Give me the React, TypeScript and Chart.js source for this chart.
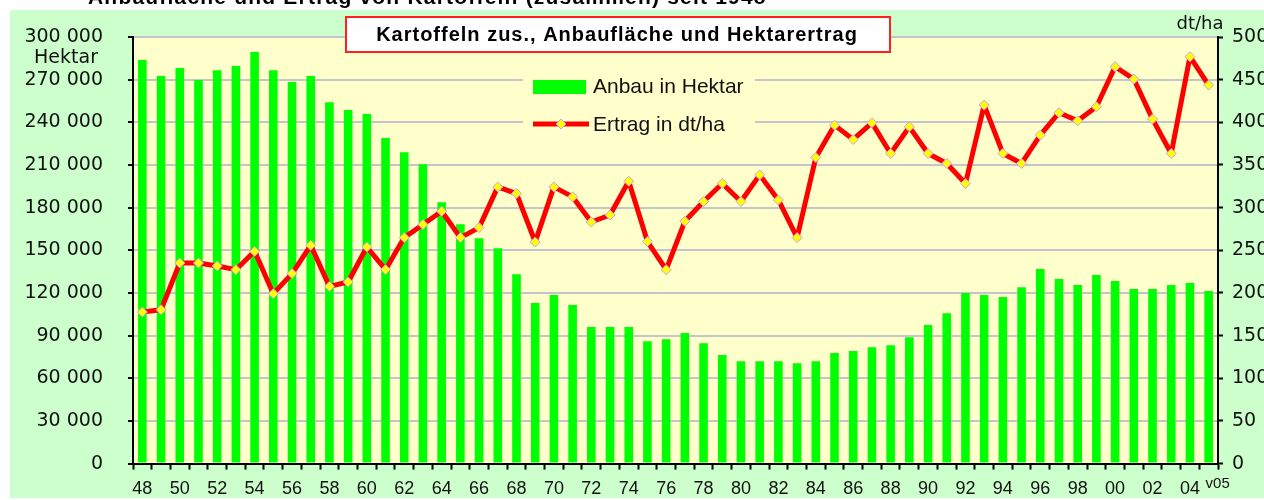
import React, { useEffect, useRef } from 'react';
import { Chart, registerables } from 'chart.js';

Chart.register(...registerables);

// ---- data ----
const years = [
  '48', '49', '50', '51', '52', '53', '54', '55', '56', '57',
  '58', '59', '60', '61', '62', '63', '64', '65', '66', '67',
  '68', '69', '70', '71', '72', '73', '74', '75', '76', '77',
  '78', '79', '80', '81', '82', '83', '84', '85', '86', '87',
  '88', '89', '90', '91', '92', '93', '94', '95', '96', '97',
  '98', '99', '00', '01', '02', '03', '04', '05',
];

const areaHa = [
  283800, 272500, 278200, 269700, 276700, 279600, 289400, 276700, 268300, 272500,
  254200, 248600, 245800, 228900, 219000, 210600, 183800, 168300, 158400, 151400,
  133100, 112900, 118500, 111500, 96000, 96000, 96000, 86100, 87500, 91800,
  84700, 76300, 72000, 72000, 72000, 70600, 72000, 77700, 79100, 81900,
  83300, 88900, 97400, 105800, 119900, 118500, 117100, 124100, 136800, 129800,
  125600, 132600, 128400, 122700, 122700, 125600, 127000, 121300,
];

const yieldDtHa = [
  177.6, 180.4, 235.1, 235.1, 231.6, 227.3, 248.8, 199.2, 222.7, 255.9,
  207.7, 212.8, 253.9, 227.3, 264.9, 280.2, 295.8, 264.9, 276.6, 324.3,
  316.5, 259.7, 324.3, 312.6, 283.2, 291.4, 331.0, 260.2, 227.3, 284.0,
  307.2, 328.3, 307.2, 338.4, 309.0, 264.9, 358.8, 396.7, 379.9, 399.4,
  363.5, 394.7, 363.5, 351.8, 328.3, 420.2, 363.5, 351.8, 385.0, 411.2,
  401.8, 418.2, 465.1, 450.7, 403.8, 363.5, 476.9, 443.7,
];

const areaAxis = { min: 0, max: 300000, step: 30000 };
const yieldAxis = { min: 0, max: 500, step: 50 };

const headingText = 'Anbaufläche und Ertrag von Kartoffeln (zusammen) seit 1948';
const titleText = 'Kartoffeln zus., Anbaufläche und Hektarertrag';
const legendArea = 'Anbau in Hektar';
const legendYield = 'Ertrag in dt/ha';
const lastLabel = 'v05';

const SANS = "'Liberation Sans', Arial, sans-serif";
const DEJAVU = "'DejaVu Sans', sans-serif";

const GREEN = '#00ff00';
const RED = '#ff0000';
const YELLOW = '#ffff00';
const PLOT_BG = '#ffffcc';
const OUTER_BG = '#ccffcc';

function fmtThousands(v: number): string {
  return String(v).replace(/\B(?=(\d{3})+(?!\d))/g, ' ');
}

function drawDiamond(ctx: CanvasRenderingContext2D, x: number, y: number, r: number) {
  ctx.beginPath();
  ctx.moveTo(x, y - r);
  ctx.lineTo(x + r, y);
  ctx.lineTo(x, y + r);
  ctx.lineTo(x - r, y);
  ctx.closePath();
  ctx.fillStyle = YELLOW;
  ctx.fill();
  ctx.strokeStyle = '#cc99ff';
  ctx.lineWidth = 1;
  ctx.stroke();
}

const decorPlugin = {
  id: 'decor',
  beforeDraw(chart: any) {
    const { ctx, chartArea: ca, width, height } = chart;
    ctx.save();
    ctx.fillStyle = '#ffffff';
    ctx.fillRect(0, 0, width, height);
    ctx.fillStyle = OUTER_BG;
    ctx.fillRect(10, 10, width - 10, height - 12);
    ctx.fillStyle = PLOT_BG;
    ctx.fillRect(ca.left, ca.top, ca.right - ca.left, ca.bottom - ca.top);
    ctx.restore();

    // heading, cut off at the top of the picture
    ctx.save();
    ctx.beginPath();
    ctx.rect(0, 0, width, 10);
    ctx.clip();
    ctx.fillStyle = '#000';
    ctx.font = `bold 21px ${SANS}`;
    (ctx as any).letterSpacing = '1.2px';
    ctx.textAlign = 'left';
    ctx.textBaseline = 'alphabetic';
    ctx.fillText(headingText, 88, 4);
    ctx.restore();
  },
  afterDraw(chart: any) {
    const { ctx } = chart;
    const xs = chart.scales.x;

    // title box
    ctx.save();
    ctx.fillStyle = '#ffffff';
    ctx.fillRect(345, 16, 546, 37);
    ctx.strokeStyle = '#ff2020';
    ctx.lineWidth = 2;
    ctx.strokeRect(346, 17, 544, 35);
    ctx.fillStyle = '#000';
    ctx.font = `bold 20px ${SANS}`;
    (ctx as any).letterSpacing = '1px';
    ctx.textAlign = 'center';
    ctx.textBaseline = 'middle';
    ctx.fillText(titleText, 617, 35);
    ctx.restore();

    // axis unit labels
    ctx.save();
    ctx.fillStyle = '#111';
    ctx.textAlign = 'center';
    ctx.textBaseline = 'middle';
    ctx.font = `19px ${DEJAVU}`;
    ctx.fillText('Hektar', 66, 58);
    ctx.font = `18px ${DEJAVU}`;
    ctx.fillText('dt/ha', 1200, 24);
    ctx.font = `15px ${SANS}`;
    ctx.fillText(lastLabel, xs.getPixelForValue(years.length - 1) + 9, 484);
    ctx.restore();

    // legend
    ctx.save();
    ctx.fillStyle = PLOT_BG;
    ctx.fillRect(523, 62, 232, 80);
    ctx.fillStyle = GREEN;
    ctx.fillRect(533, 80, 53, 14);
    ctx.strokeStyle = RED;
    ctx.lineWidth = 5;
    ctx.beginPath();
    ctx.moveTo(533, 124);
    ctx.lineTo(589, 124);
    ctx.stroke();
    drawDiamond(ctx, 561, 124, 5);
    ctx.fillStyle = '#111';
    ctx.font = `21px ${SANS}`;
    ctx.textAlign = 'left';
    ctx.textBaseline = 'middle';
    ctx.fillText(legendArea, 593, 87);
    ctx.fillText(legendYield, 593, 125);
    ctx.restore();
  },
};

export default function App() {
  const canvasRef = useRef<HTMLCanvasElement | null>(null);

  useEffect(() => {
    document.body.style.margin = '0';
    const canvas = canvasRef.current;
    if (!canvas) return;

    const chart = new Chart(canvas, {
      type: 'bar',
      data: {
        labels: years,
        datasets: [
          {
            type: 'line',
            label: legendYield,
            data: yieldDtHa,
            yAxisID: 'y1',
            order: 0,
            borderColor: RED,
            borderWidth: 5,
            borderJoinStyle: 'round',
            tension: 0,
            pointStyle: 'rectRot',
            pointRadius: 5,
            pointBackgroundColor: YELLOW,
            pointBorderColor: '#cc99ff',
            pointBorderWidth: 1,
            clip: false,
          } as any,
          {
            type: 'bar',
            label: legendArea,
            data: areaHa,
            yAxisID: 'y',
            order: 1,
            backgroundColor: GREEN,
            borderWidth: 0,
            categoryPercentage: 1,
            barPercentage: 0.46,
          } as any,
        ],
      },
      options: {
        responsive: false,
        maintainAspectRatio: false,
        animation: false,
        layout: { padding: { top: 37, left: 0, right: 0, bottom: 0 } },
        plugins: {
          legend: { display: false },
          title: { display: false },
          tooltip: { enabled: false },
        },
        scales: {
          x: {
            type: 'category',
            offset: true,
            afterFit: (s: any) => { s.height = 36; },
            grid: {
              offset: true,
              drawOnChartArea: false,
              drawTicks: true,
              tickLength: 6,
              tickColor: '#000',
              tickWidth: 2,
            },
            border: { display: true, color: '#000', width: 2 },
            ticks: {
              autoSkip: false,
              maxRotation: 0,
              minRotation: 0,
              padding: 9,
              color: '#111',
              font: { family: SANS, size: 18 },
              callback: (_v: any, i: number) => (i % 2 === 0 ? years[i] : ''),
            },
          },
          y: {
            type: 'linear',
            position: 'left',
            min: areaAxis.min,
            max: areaAxis.max,
            afterFit: (s: any) => { s.width = 133; },
            grid: {
              color: '#c4c4cc',
              lineWidth: 2,
              tickColor: '#000',
              tickLength: 5,
              tickWidth: 2,
            },
            border: { display: true, color: '#000', width: 2 },
            ticks: {
              stepSize: areaAxis.step,
              padding: 25,
              color: '#111',
              font: { family: DEJAVU, size: 19 },
              callback: (v: any) => fmtThousands(Number(v)),
            },
          },
          y1: {
            type: 'linear',
            position: 'right',
            min: yieldAxis.min,
            max: yieldAxis.max,
            afterFit: (s: any) => { s.width = 46; },
            grid: {
              drawOnChartArea: false,
              tickColor: '#000',
              tickLength: 5,
              tickWidth: 2,
            },
            border: { display: true, color: '#000', width: 2 },
            ticks: {
              stepSize: yieldAxis.step,
              padding: 9,
              color: '#111',
              font: { family: DEJAVU, size: 19 },
            },
          },
        },
      },
      plugins: [decorPlugin],
    } as any);

    return () => chart.destroy();
  }, []);

  return (
    <canvas
      ref={canvasRef}
      width={1264}
      height={500}
      style={{ display: 'block', width: 1264, height: 500 }}
    />
  );
}
